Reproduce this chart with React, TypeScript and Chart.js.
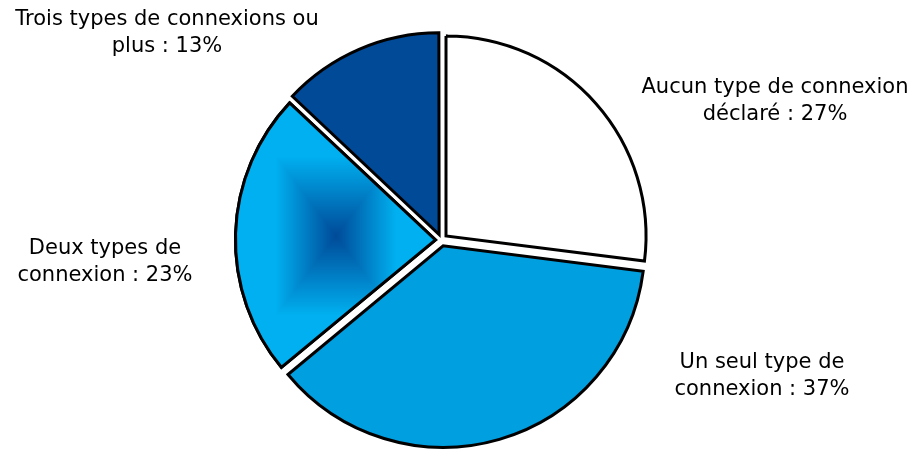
import React, { useEffect, useRef } from "react";
import { Chart, registerables } from "chart.js";

Chart.register(...registerables);

const categories = [
  "Aucun type de connexion déclaré",
  "Un seul type de connexion",
  "Deux types de connexion",
  "Trois types de connexions ou plus",
];
const values = [27, 37, 23, 13];
const labelLines = [
  ["Aucun type de connexion", "déclaré : 27%"],
  ["Un seul type de", "connexion : 37%"],
  ["Deux types de", "connexion : 23%"],
  ["Trois types de connexions ou", "plus : 13%"],
];
// label block centre, relative to the pie centre
const labelOffsets = [
  [333.5, -138.5],
  [320.5, 136],
  [-336.5, 22],
  [-274.5, -206.5],
];
const colors = ["#FFFFFF", "#009FDF", "#00B0F0", "#004A98"];
const gradientIndex = 2;
const gradDark = [0, 74, 152];
const gradLight = [0, 176, 240];

const FONT = "21px 'DejaVu Sans', Verdana, sans-serif";

const gradientPlugin = {
  id: "rectGradient",
  afterDatasetsDraw(chart: any) {
    const meta = chart.getDatasetMeta(0);
    const arc: any = meta.data[gradientIndex];
    if (!arc) return;
    const { x, y, startAngle, endAngle, outerRadius } = arc;
    const opts = arc.options;
    const offset = (opts.offset || 0) / 4;
    const circ = endAngle - startAngle;
    const fix = 1 - Math.sin(Math.min(Math.PI, circ));
    const R = outerRadius + offset * fix;
    let minX = x, maxX = x, minY = y, maxY = y;
    for (let i = 0; i <= 60; i++) {
      const a = startAngle + (circ * i) / 60;
      const px = x + Math.cos(a) * R;
      const py = y + Math.sin(a) * R;
      minX = Math.min(minX, px); maxX = Math.max(maxX, px);
      minY = Math.min(minY, py); maxY = Math.max(maxY, py);
    }
    const W = chart.canvas.width;
    const H = chart.canvas.height;
    const off = document.createElement("canvas");
    off.width = W; off.height = H;
    const octx = off.getContext("2d")!;
    const img = octx.createImageData(W, H);
    const cx = (minX + maxX) / 2, cy = (minY + maxY) / 2;
    const hw = (maxX - minX) / 2, hh = (maxY - minY) / 2;
    const x0 = Math.max(0, Math.floor(minX) - 4), x1 = Math.min(W, Math.ceil(maxX) + 4);
    const y0 = Math.max(0, Math.floor(minY) - 4), y1 = Math.min(H, Math.ceil(maxY) + 4);
    for (let py = y0; py < y1; py++) {
      for (let px = x0; px < x1; px++) {
        let t = Math.max(Math.abs(px - cx) / hw, Math.abs(py - cy) / hh);
        t = Math.min(1, t / 0.6);
        const k = (py * W + px) * 4;
        img.data[k] = gradDark[0] + (gradLight[0] - gradDark[0]) * t;
        img.data[k + 1] = gradDark[1] + (gradLight[1] - gradDark[1]) * t;
        img.data[k + 2] = gradDark[2] + (gradLight[2] - gradDark[2]) * t;
        img.data[k + 3] = 255;
      }
    }
    octx.putImageData(img, 0, 0);
    const ctx = chart.ctx;
    const pattern = ctx.createPattern(off, "no-repeat");
    const half = (startAngle + endAngle) / 2;
    ctx.save();
    ctx.translate(Math.cos(half) * offset, Math.sin(half) * offset);
    ctx.beginPath();
    ctx.moveTo(x, y);
    ctx.arc(x, y, R, startAngle, endAngle);
    ctx.closePath();
    ctx.fillStyle = pattern;
    ctx.fill();
    ctx.lineWidth = opts.borderWidth;
    ctx.strokeStyle = opts.borderColor;
    ctx.lineJoin = "miter";
    ctx.stroke();
    ctx.restore();
  },
};

const labelPlugin = {
  id: "outsideLabels",
  afterDraw(chart: any) {
    const meta = chart.getDatasetMeta(0);
    const arc: any = meta.data[0];
    if (!arc) return;
    const ctx = chart.ctx;
    ctx.save();
    ctx.font = FONT;
    ctx.fillStyle = "#000000";
    ctx.textAlign = "center";
    ctx.textBaseline = "middle";
    const lh = 27;
    labelLines.forEach((lines, i) => {
      const cx = arc.x + labelOffsets[i][0];
      const cy = arc.y + labelOffsets[i][1];
      const top = cy - ((lines.length - 1) * lh) / 2;
      lines.forEach((ln, j) => ctx.fillText(ln, cx, top + j * lh));
    });
    ctx.restore();
  },
};

export default function App() {
  const ref = useRef<HTMLCanvasElement>(null);
  useEffect(() => {
    if (!ref.current) return;
    const chart = new Chart(ref.current, {
      type: "pie",
      data: {
        labels: categories,
        datasets: [
          {
            data: values,
            backgroundColor: colors,
            borderColor: "#000000",
            borderWidth: 3,
            borderJoinStyle: "miter",
            offset: 24,
          },
        ],
      },
      options: {
        responsive: false,
        animation: false,
        radius: 200,
        layout: { padding: { left: 0, right: 33, top: 29, bottom: 0 } },
        plugins: {
          legend: { display: false },
          tooltip: { enabled: false },
        },
      } as any,
      plugins: [gradientPlugin, labelPlugin],
    });
    return () => chart.destroy();
  }, []);
  return (
    <div style={{ position: "absolute", left: 0, top: 0, width: 916, height: 451, background: "#fff" }}>
      <canvas ref={ref} width={916} height={451} style={{ display: "block" }} />
    </div>
  );
}
